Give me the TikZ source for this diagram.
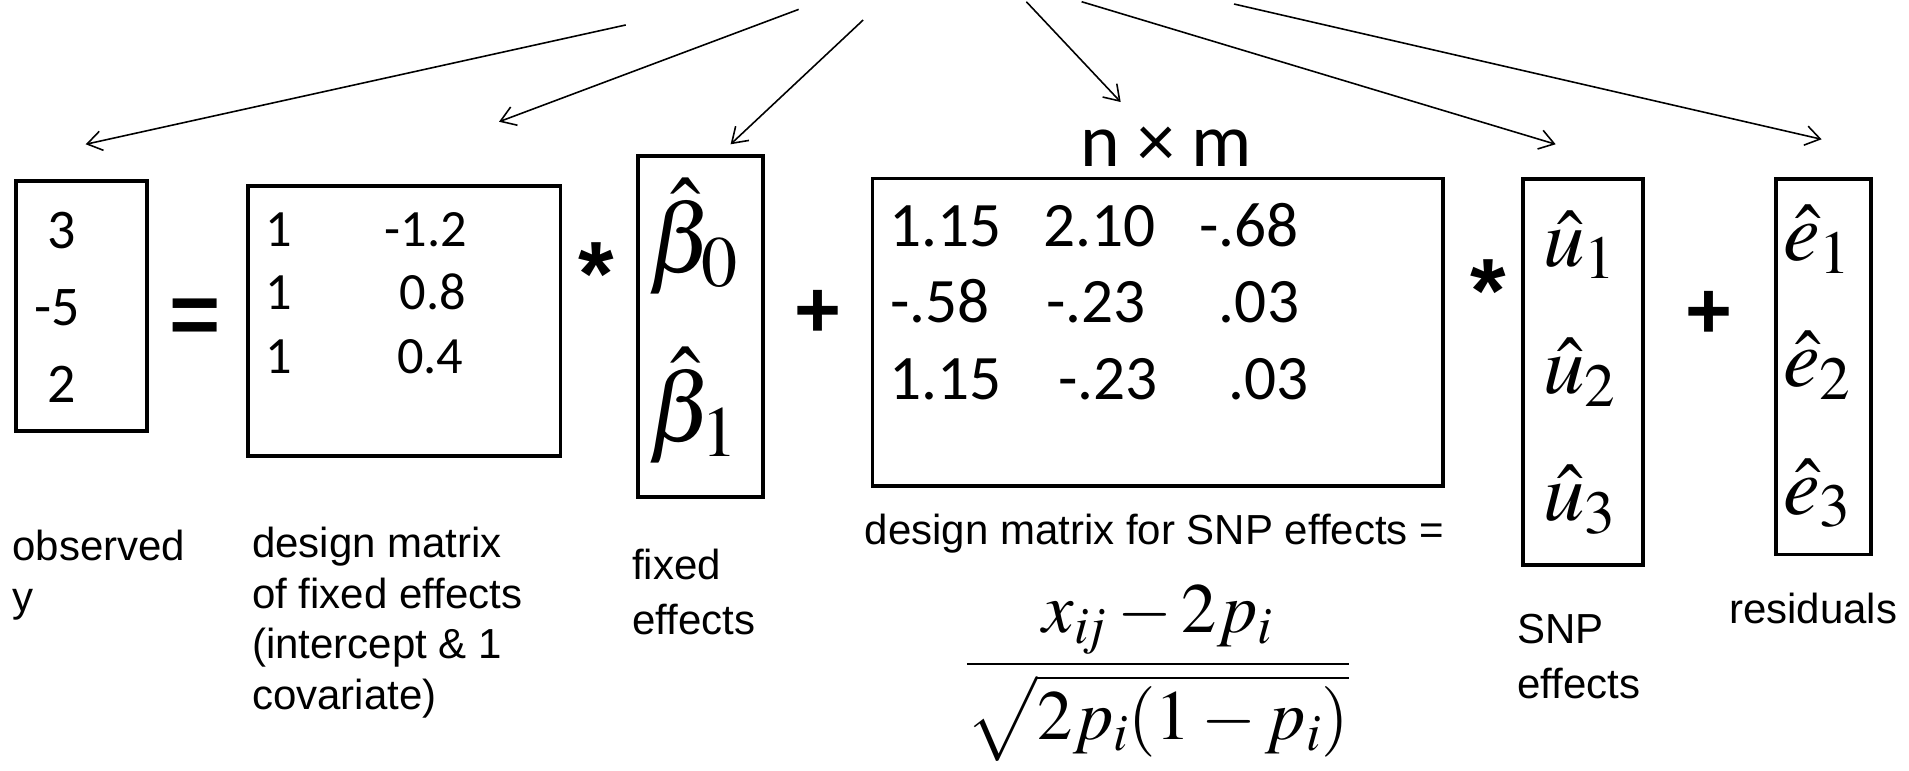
\documentclass[tikz,border=0pt]{standalone}
\usepackage{mathptmx}
\usepackage[no-math]{fontspec}
\setmainfont{Liberation Sans}
\newfontfamily\calib{Carlito}
\usetikzlibrary{arrows.meta}
\newcommand{\numsize}[1]{\calib\fontsize{#1}{#1}\selectfont}

\begin{document}
\begin{tikzpicture}[x=1pt, y=-1pt,
  matbox/.style={draw, line width=3.2pt, inner sep=0pt},
  ynum/.style={anchor=base west, inner sep=0pt, font=\numsize{46}},
  xnum/.style={anchor=base west, inner sep=0pt, font=\numsize{43}},
  znum/.style={anchor=base west, inner sep=0pt, font=\numsize{52}},
  lbl/.style={anchor=base west, inner sep=0pt, align=left, font=\fontsize{34.5}{41.5}\selectfont},
  wide/.style={font=\fontsize{34.5}{45}\selectfont},
  op/.style={inner sep=0pt, font=\bfseries\fontsize{#1}{#1}\selectfont},
  hatv/.style={inner sep=0pt, font=\fontsize{#1}{#1}\selectfont},
  arr/.style={-{Straight Barb[length=12pt,width=16pt]}, line width=1.3pt}
]
\useasboundingbox (0,0) rectangle (1568,633);

\node[matbox, minimum width=107.5pt, minimum height=205.4pt] (ybox) at (67,251.3) {};
\node[matbox, minimum width=256.8pt, minimum height=221.8pt] (xbox) at (332,263.5) {};
\node[matbox, minimum width=102.8pt, minimum height=280.1pt] (betabox) at (575.5,268.35) {};
\node[matbox, minimum width=468.8pt, minimum height=252.8pt] (zbox) at (951,273) {};
\node[matbox, minimum width=98.3pt, minimum height=316.8pt] (ubox) at (1300.25,305.6) {};
\node[matbox, minimum width=77.3pt, minimum height=308.2pt] (ebox) at (1497.75,301.3) {};

\node[ynum] (y1) at (39,204) {3};
\node[ynum] (y2) at (28,267) {-5};
\node[ynum] (y3) at (39,331) {2};

\node[xnum] (x11) at (218,202.6) {1};
\node[xnum] (x12) at (316,202.6) {-1.2};
\node[xnum] (x21) at (218,254.6) {1};
\node[xnum] (x22) at (328,254.6) {0.8};
\node[xnum] (x31) at (218,306.6) {1};
\node[xnum] (x32) at (326,306.6) {0.4};

\node[znum] (z11) at (730,202.6) {1.15};
\node[znum] (z12) at (857,202.6) {2.10};
\node[znum] (z13) at (985,202.6) {-.68};
\node[znum] (z21) at (731,265) {-.58};
\node[znum] (z22) at (859,265) {-.23};
\node[znum] (z23) at (1001,265) {.03};
\node[znum] (z31) at (730,328.5) {1.15};
\node[znum] (z32) at (869,328.5) {-.23};
\node[znum] (z33) at (1009,328.5) {.03};

\node[hatv=80] (b0) at (569.5,194) {$\hat{\beta}_0$};
\node[hatv=80] (b1) at (569.5,333) {$\hat{\beta}_1$};
\node[hatv=68] (u1) at (1297.5,201) {$\hat{u}_1$};
\node[hatv=68] (u2) at (1297.5,306) {$\hat{u}_2$};
\node[hatv=68] (u3) at (1297.5,410.5) {$\hat{u}_3$};
\node[hatv=68] (e1) at (1492.6,196.5) {$\hat{e}_1$};
\node[hatv=68] (e2) at (1492.6,300) {$\hat{e}_2$};
\node[hatv=68] (e3) at (1492.6,405) {$\hat{e}_3$};

\node[op=72] (eq) at (160,264) {=};
\node[op=75] (times1) at (490,225) {*};
\node[op=66] (plus1) at (671.5,258) {+};
\node[op=75] (times2) at (1222,239) {*};
\node[op=66] (plus2) at (1403.5,259) {+};

\node[inner sep=0pt, font=\numsize{62}] (dims) at (958,120.5) {n × m};

\node[lbl] (obs) at (10,502) {observed\\y};
\node[lbl] (xlbl) at (207,582.6) {design matrix\\of fixed effects\\(intercept \& 1\\covariate)};
\node[lbl, wide] (blbl) at (519,520.8) {fixed\\effects};
\node[lbl] (zlbl) at (710,447.6) {design matrix for SNP effects =};
\node[lbl, wide] (ulbl) at (1246,573.5) {SNP\\effects};
\node[lbl] (elbl) at (1420,512.5) {residuals};

\node[hatv=58] (std) at (951,553) {$\displaystyle\frac{x_{i\!j}-2p_i}{\sqrt{2p_i(1-p_i)}}$};

\coordinate (s1) at (514,20.5);
\coordinate (t1) at (70.4,118.5);
\coordinate (s2) at (656,7.7);
\coordinate (t2) at (409.9,100);
\coordinate (s3) at (709,16.4);
\coordinate (t3) at (600.1,118.5);
\coordinate (s4) at (843,1.4);
\coordinate (t4) at (920.5,83.8);
\coordinate (s5) at (888.4,1.4);
\coordinate (t5) at (1277.8,118.5);
\coordinate (s6) at (1013.6,3.3);
\coordinate (t6) at (1496.2,114.4);
\draw[arr] (s1) -- (t1);
\draw[arr] (s2) -- (t2);
\draw[arr] (s3) -- (t3);
\draw[arr] (s4) -- (t4);
\draw[arr] (s5) -- (t5);
\draw[arr] (s6) -- (t6);
\end{tikzpicture}
\end{document}
